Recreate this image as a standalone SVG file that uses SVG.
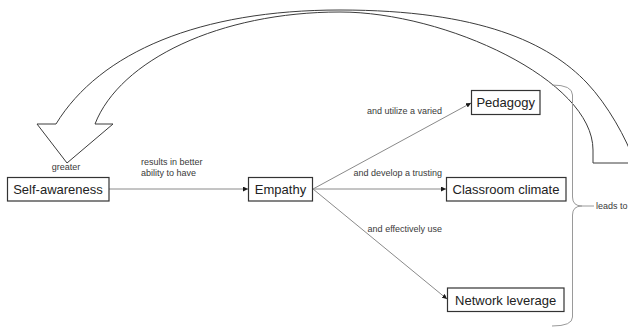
<svg xmlns="http://www.w3.org/2000/svg" width="628" height="328" viewBox="0 0 628 328">
  <style>
    .box { fill: #ffffff; stroke: #333333; stroke-width: 1.2; }
    .node-text { font-family: "Liberation Sans", Arial, sans-serif; font-size: 13px; fill: #222222; text-anchor: middle; }
    .label { font-family: "Liberation Sans", Arial, sans-serif; font-size: 9px; fill: #3a3a3a; }
    .edge { fill: none; stroke: #8a8a8a; stroke-width: 1; marker-end: url(#arrow); }
    .big-arrow { fill: none; stroke: #3c3c3c; stroke-width: 1; stroke-linejoin: miter; }
    .brace { fill: none; stroke: #9a9a9a; stroke-width: 1; }
  </style>
  <defs>
    <marker id="arrow" markerUnits="userSpaceOnUse" markerWidth="6" markerHeight="5" refX="5" refY="2.5" orient="auto">
      <path d="M0,0 L5,2.5 L0,5 Z" fill="#1a1a1a"/>
    </marker>
  </defs>
  <rect x="0" y="0" width="628" height="328" fill="#ffffff"/>

  <g id="connectors">
    <!-- big curved feedback arrow -->
    <path class="big-arrow" d="M 37,124 L 67,163 L 113,124 L 95,124 C 120,60 220,12 340,12 C 445,12 593,80 593,150 L 593,163 L 635,163 C 626.25,138 607.7,104.9 587,83 C 549,43 480,10 340,10 C 200,10 100,52 56,124 Z"/>
    <text class="label" x="66" y="170" text-anchor="middle">greater</text>

    <!-- Self-awareness -> Empathy -->
    <line class="edge" x1="109" y1="189" x2="248" y2="189"/>
    <text class="label" x="141" y="165">results in better</text>
    <text class="label" x="141" y="176">ability to have</text>

    <!-- Empathy -> Pedagogy / Classroom climate / Network leverage -->
    <line class="edge" x1="313" y1="189" x2="471" y2="103"/>
    <line class="edge" x1="313" y1="189" x2="446" y2="189"/>
    <line class="edge" x1="313" y1="189" x2="447" y2="299"/>
    <text class="label" x="442" y="114" text-anchor="end">and utilize a varied</text>
    <text class="label" x="442" y="176" text-anchor="end">and develop a trusting</text>
    <text class="label" x="442" y="232" text-anchor="end">and effectively use</text>

    <!-- brace -->
    <path class="brace" d="M 552,85 Q 572.5,85 572.5,95 L 572.5,197 Q 572.5,206 582,206 Q 572.5,206 572.5,215 L 572.5,317 Q 572.5,326 552,326"/>
    <line class="brace" x1="582" y1="206" x2="594" y2="206"/>
    <text class="label" x="596" y="209" font-size="8.8">leads to</text>
  </g>

  <g id="node-self-awareness">
    <rect class="box" x="7.5" y="177.5" width="101.5" height="23.5"/>
    <text class="node-text" x="58" y="194">Self-awareness</text>
  </g>
  <g id="node-empathy">
    <rect class="box" x="248.5" y="177.5" width="64" height="23.5"/>
    <text class="node-text" x="280.5" y="194">Empathy</text>
  </g>
  <g id="node-pedagogy">
    <rect class="box" x="471.5" y="90.5" width="68.5" height="24"/>
    <text class="node-text" x="505.7" y="107.3">Pedagogy</text>
  </g>
  <g id="node-classroom-climate">
    <rect class="box" x="446.5" y="177.5" width="119.5" height="23.5"/>
    <text class="node-text" x="506" y="194">Classroom climate</text>
  </g>
  <g id="node-network-leverage">
    <rect class="box" x="447.5" y="288" width="116.5" height="23.5"/>
    <text class="node-text" x="505.7" y="304.5">Network leverage</text>
  </g>
</svg>
